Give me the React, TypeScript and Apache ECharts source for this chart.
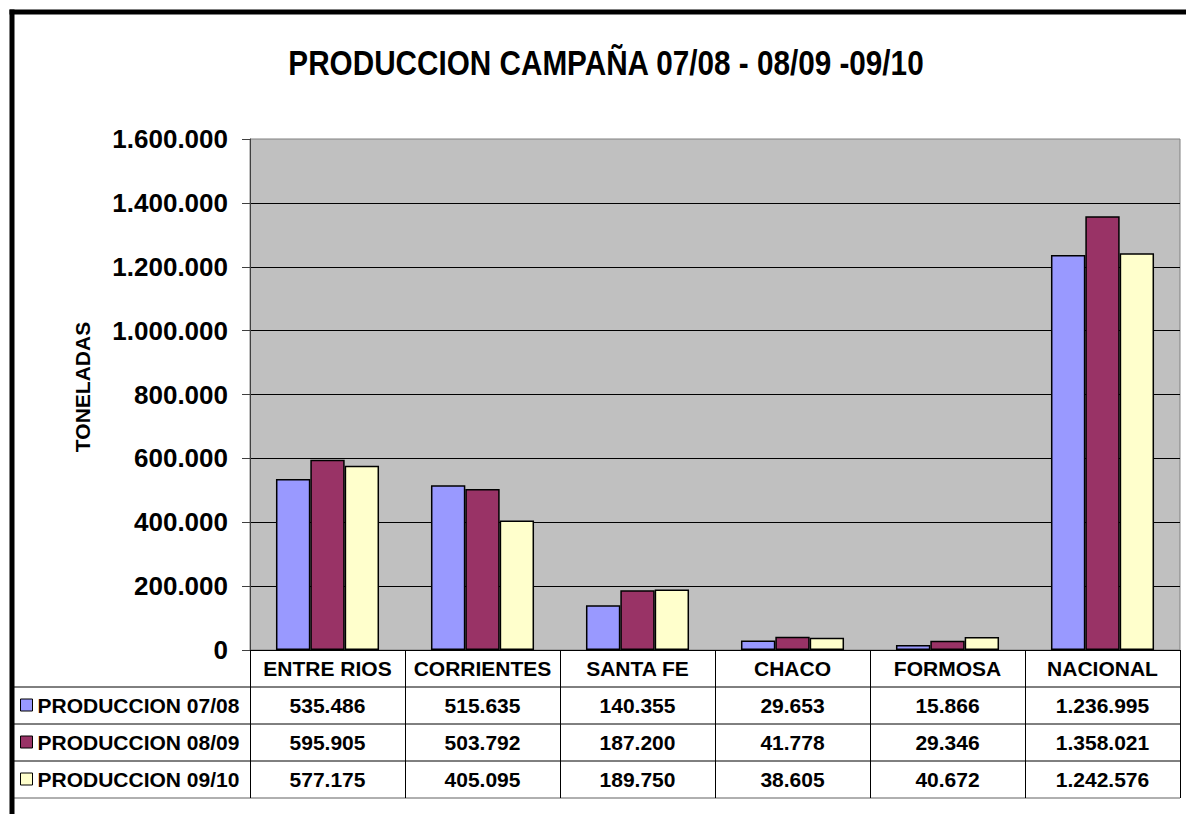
import React, { useEffect, useRef } from "react";
import * as echarts from "echarts";

const categories = ["ENTRE RIOS", "CORRIENTES", "SANTA FE", "CHACO", "FORMOSA", "NACIONAL"];
const seriesNames = ["PRODUCCION 07/08", "PRODUCCION 08/09", "PRODUCCION 09/10"];
const prod0708 = [535486, 515635, 140355, 29653, 15866, 1236995];
const prod0809 = [595905, 503792, 187200, 41778, 29346, 1358021];
const prod0910 = [577175, 405095, 189750, 38605, 40672, 1242576];
const seriesColors = ["#9999FF", "#993366", "#FFFFCC"];
const yMin = 0;
const yMax = 1600000;
const yInterval = 200000;

const fmt = (v: number) => String(Math.round(v)).replace(/\B(?=(\d{3})+(?!\d))/g, ".");

const FONT = "'Liberation Sans', Arial, sans-serif";

export default function App() {
  const ref = useRef<HTMLDivElement>(null);
  useEffect(() => {
    if (!ref.current) return;
    const chart = echarts.init(ref.current, undefined, { renderer: "svg" });
    const allSeries = [prod0708, prod0809, prod0910];
    const rowPitch = 37;
    const tableTop = 650;
    const tableLeft = 12;
    const tableRight = 1180;
    const rowAxes = allSeries.map((vals, i) => ({
      type: "category",
      gridIndex: 0,
      position: "bottom",
      offset: rowPitch * (i + 1),
      data: vals.map(fmt),
      axisLine: { show: false },
      axisTick: { show: false },
      splitLine: { show: false },
      axisLabel: {
        interval: 0,
        margin: 8,
        color: "#000",
        fontFamily: FONT,
        fontWeight: "bold",
        fontSize: 21,
      },
    }));
    const hLines = [1, 2, 3, 4].map((k) => ({
      type: "line",
      shape: { x1: tableLeft, y1: tableTop + rowPitch * k, x2: tableRight, y2: tableTop + rowPitch * k },
      style: { stroke: k === 4 ? "#606060" : "#000", lineWidth: 1 },
      silent: true,
    }));
    chart.setOption({
      animation: false,
      textStyle: { fontFamily: FONT },
      grid: {
        left: 250,
        right: 6,
        top: 139,
        bottom: 164,
        show: true,
        backgroundColor: "#C0C0C0",
        borderColor: "#808080",
        borderWidth: 1,
      },
      legend: {
        orient: "vertical",
        left: 15,
        top: 688,
        padding: 5,
        itemGap: 13,
        itemWidth: 12,
        itemHeight: 12,
        icon: "rect",
        selectedMode: false,
        data: seriesNames,
        itemStyle: { borderColor: "#000", borderWidth: 1 },
        textStyle: {
          color: "#000",
          fontFamily: FONT,
          fontWeight: "bold",
          fontSize: 21,
          lineHeight: 24,
          padding: [0, 0, 0, 0],
        },
      },
      xAxis: [
        {
          type: "category",
          gridIndex: 0,
          position: "bottom",
          data: categories,
          axisLine: { show: true, lineStyle: { color: "#000", width: 1 } },
          axisTick: { show: true, interval: 0, length: rowPitch * 4, lineStyle: { color: "#000", width: 1 } },
          axisLabel: {
            interval: 0,
            margin: 8,
            color: "#000",
            fontFamily: FONT,
            fontWeight: "bold",
            fontSize: 21,
          },
          splitLine: { show: false },
        },
        ...rowAxes,
      ],
      yAxis: {
        type: "value",
        min: yMin,
        max: yMax,
        interval: yInterval,
        name: "TONELADAS",
        nameLocation: "middle",
        nameGap: 157,
        nameRotate: 90,
        nameTextStyle: {
          color: "#000",
          fontFamily: FONT,
          fontWeight: "bold",
          fontSize: 21,
          padding: [0, 0, 0, 15],
        },
        axisLine: { show: true, lineStyle: { color: "#404040", width: 1 } },
        axisTick: { show: true, length: 8, lineStyle: { color: "#404040", width: 1 } },
        axisLabel: {
          margin: 22,
          color: "#000",
          fontFamily: FONT,
          fontWeight: "bold",
          fontSize: 26,
          formatter: (v: number) => fmt(v),
        },
        splitLine: { show: true, showMaxLine: false, showMinLine: false, lineStyle: { color: "#000", width: 1 } },
      },
      series: allSeries.map((vals, i) => ({
        name: seriesNames[i],
        type: "bar",
        xAxisIndex: 0,
        data: vals,
        barGap: "0%",
        barCategoryGap: "33.5%",
        itemStyle: { color: seriesColors[i], borderColor: "#000", borderWidth: 1.5 },
      })),
      graphic: [
        {
          type: "text",
          x: 606,
          y: 63,
          scaleX: 1,
          scaleY: 1.2,
          style: {
            text: "PRODUCCION CAMPAÑA 07/08 - 08/09 -09/10",
            fill: "#000",
            font: `bold 29.7px ${FONT}`,
            textAlign: "center",
            textVerticalAlign: "middle",
          },
          silent: true,
        },
        ...hLines,
        {
          type: "rect",
          shape: { x: 9.5, y: 9.5, width: 1186, height: 5 },
          style: { fill: "#000" },
          silent: true,
        },
        {
          type: "rect",
          shape: { x: 9.5, y: 9.5, width: 5, height: 814 },
          style: { fill: "#000" },
          silent: true,
        },
      ],
    });
    return () => chart.dispose();
  }, []);
  return (
    <div
      ref={ref}
      style={{ position: "fixed", left: 0, top: 0, width: 1186, height: 814, background: "#fff" }}
    />
  );
}
